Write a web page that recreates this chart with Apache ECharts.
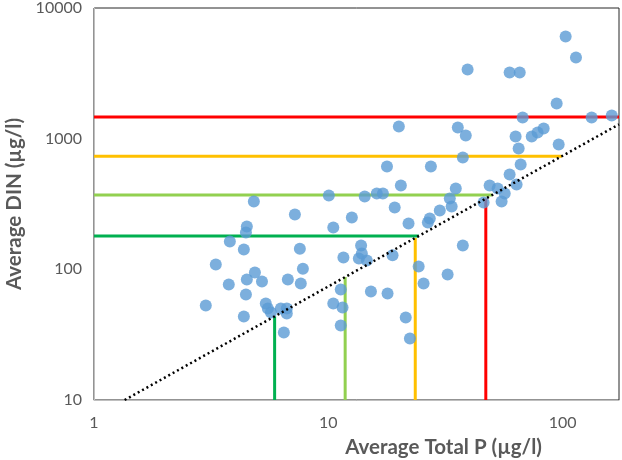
<!DOCTYPE html>
<html>
<head>
<meta charset="utf-8">
<script src="https://cdn.jsdelivr.net/npm/echarts@6/dist/echarts.min.js"></script>
<style>
  html, body { margin: 0; padding: 0; background: #fff; }
  #fig_din_tp { width: 622px; height: 460px; }
</style>
</head>
<body>
<div id="fig_din_tp"></div>
<script>
// site averages
var tpValues = [
    103, 114, 39.3, 59.4, 65.6, 94.3, 67.5, 133, 162, 35.7,
    38.6, 20.0, 63.0, 73.8, 78.2, 83.0, 96.2, 64.9, 37.5, 66.2,
    17.8, 27.4, 59.4, 48.8, 52.8, 56.6, 54.9, 46.0, 63.6, 20.4,
    35.0, 33.0, 33.6, 29.9, 26.6, 27.1, 16.1, 17.1, 14.3, 10.05,
    19.2, 12.6, 10.5, 22.0, 4.81, 7.20, 4.49, 4.45, 3.80, 4.36,
    7.56, 3.31, 4.86, 4.49, 5.21, 3.76, 7.79, 6.72, 7.63, 4.45,
    3.00, 5.41, 5.52, 5.69, 6.27, 6.65, 6.65, 4.36, 6.46, 13.8,
    13.9, 11.6, 13.5, 14.6, 18.8, 24.3, 25.5, 37.5, 32.3, 11.3,
    15.2, 17.9, 10.5, 11.5, 11.3, 21.4, 22.3
];
var dinValues = [
    6050, 4180, 3380, 3210, 3210, 1860, 1452, 1452, 1503, 1218,
    1058, 1240, 1040, 1040, 1115, 1196, 902, 841, 718, 635,
    612, 612, 532, 438, 415, 380, 331, 325, 446, 438,
    415, 349, 303, 282, 228, 245, 380, 380, 361, 367,
    297, 249, 209, 224, 331, 263, 213, 191, 163, 142,
    144, 109, 94.6, 83.6, 80.7, 76.5, 101, 83.6, 77.9, 64.2,
    52.9, 54.8, 50.1, 46.7, 50.1, 50.1, 45.9, 43.5, 32.9, 152,
    132, 123, 121, 117, 128, 105, 77.9, 152, 91.3, 70.1,
    67.7, 65.3, 54.8, 51.0, 37.2, 42.8, 29.6
];

// class limits: DIN (horizontal) and total P (vertical), lowest to highest
var dinLimits = [180, 370, 735, 1465];
var tpLimits = [5.9, 11.8, 23.5, 47];
var limitColors = ['#00B050', '#92D050', '#FFC000', '#FF0000'];

// N:P mass ratio of the dotted line
var npRatio = 7.4;

var xMin = 1, xMax = 174;
var yMin = 10, yMax = 10000;

var fig_din_tp = {
    plot_id: 'fig_din_tp',
    plot_chart: null,

    init: function() {
        var points = [];
        for (let i = 0; i < tpValues.length; i++) {
            points.push([tpValues[i], dinValues[i]]);
        }

        var series = [];
        // limit lines, each stops where it meets the ratio line
        for (let i = 0; i < dinLimits.length; i++) {
            series.push({
                type: 'line',
                data: [[xMin, dinLimits[i]], [Math.min(dinLimits[i] / npRatio, xMax), dinLimits[i]]],
                symbol: 'none',
                lineStyle: { color: limitColors[i], width: 3 },
                silent: true,
                z: 2
            });
            series.push({
                type: 'line',
                data: [[tpLimits[i], yMin], [tpLimits[i], tpLimits[i] * npRatio]],
                symbol: 'none',
                lineStyle: { color: limitColors[i], width: 3 },
                silent: true,
                z: 2
            });
        }

        series.push({
            type: 'scatter',
            data: points,
            symbol: 'circle',
            symbolSize: 12,
            itemStyle: { color: '#5B9BD5' },
            z: 3
        });

        series.push({
            type: 'line',
            data: [[yMin / npRatio, yMin], [xMax, xMax * npRatio]],
            symbol: 'none',
            lineStyle: { color: '#000', width: 2.5, type: [2, 3] },
            silent: true,
            z: 4
        });

        var powerLabel = function(v) {
            var l = Math.log10(v);
            return Math.abs(l - Math.round(l)) < 1e-6 ? String(Math.round(v)) : '';
        };

        this.option = {
            animation: false,
            grid: {
                show: true,
                borderColor: '#262626',
                borderWidth: 1,
                top: 8,
                right: 3,
                bottom: 60,
                left: 94,
                outerBoundsMode: 'none'
            },
            xAxis: {
                type: 'log',
                logBase: 10,
                min: xMin,
                max: xMax,
                name: 'Average Total P (µg/l)',
                nameLocation: 'middle',
                nameGap: 37,
                nameTextStyle: {
                    fontFamily: 'Lato',
                    fontWeight: 'bold',
                    fontSize: 20.5,
                    color: '#595959',
                    padding: [0, 0, 0, 174]
                },
                axisLine: { lineStyle: { color: '#BFBFBF', width: 1 } },
                axisTick: { show: false },
                splitLine: { show: false },
                minorTick: { show: false },
                axisLabel: {
                    fontFamily: 'Lato',
                    fontSize: 16,
                    color: '#595959',
                    margin: 15,
                    formatter: powerLabel
                }
            },
            yAxis: {
                type: 'log',
                logBase: 10,
                min: yMin,
                max: yMax,
                name: 'Average DIN (µg/l)',
                nameLocation: 'middle',
                nameGap: 69,
                nameTextStyle: {
                    fontFamily: 'Lato',
                    fontWeight: 'bold',
                    fontSize: 20.5,
                    color: '#595959'
                },
                axisLine: { show: true, lineStyle: { color: '#BFBFBF', width: 1 } },
                axisTick: { show: false },
                splitLine: { show: false },
                axisLabel: {
                    fontFamily: 'Lato',
                    fontSize: 16,
                    color: '#595959',
                    margin: 12,
                    formatter: powerLabel
                }
            },
            series: series
        };

        this.plot_chart = echarts.init(document.getElementById(this.plot_id));
        this.plot_chart.setOption(this.option);
    }
};

fig_din_tp.init();
</script>
</body>
</html>
